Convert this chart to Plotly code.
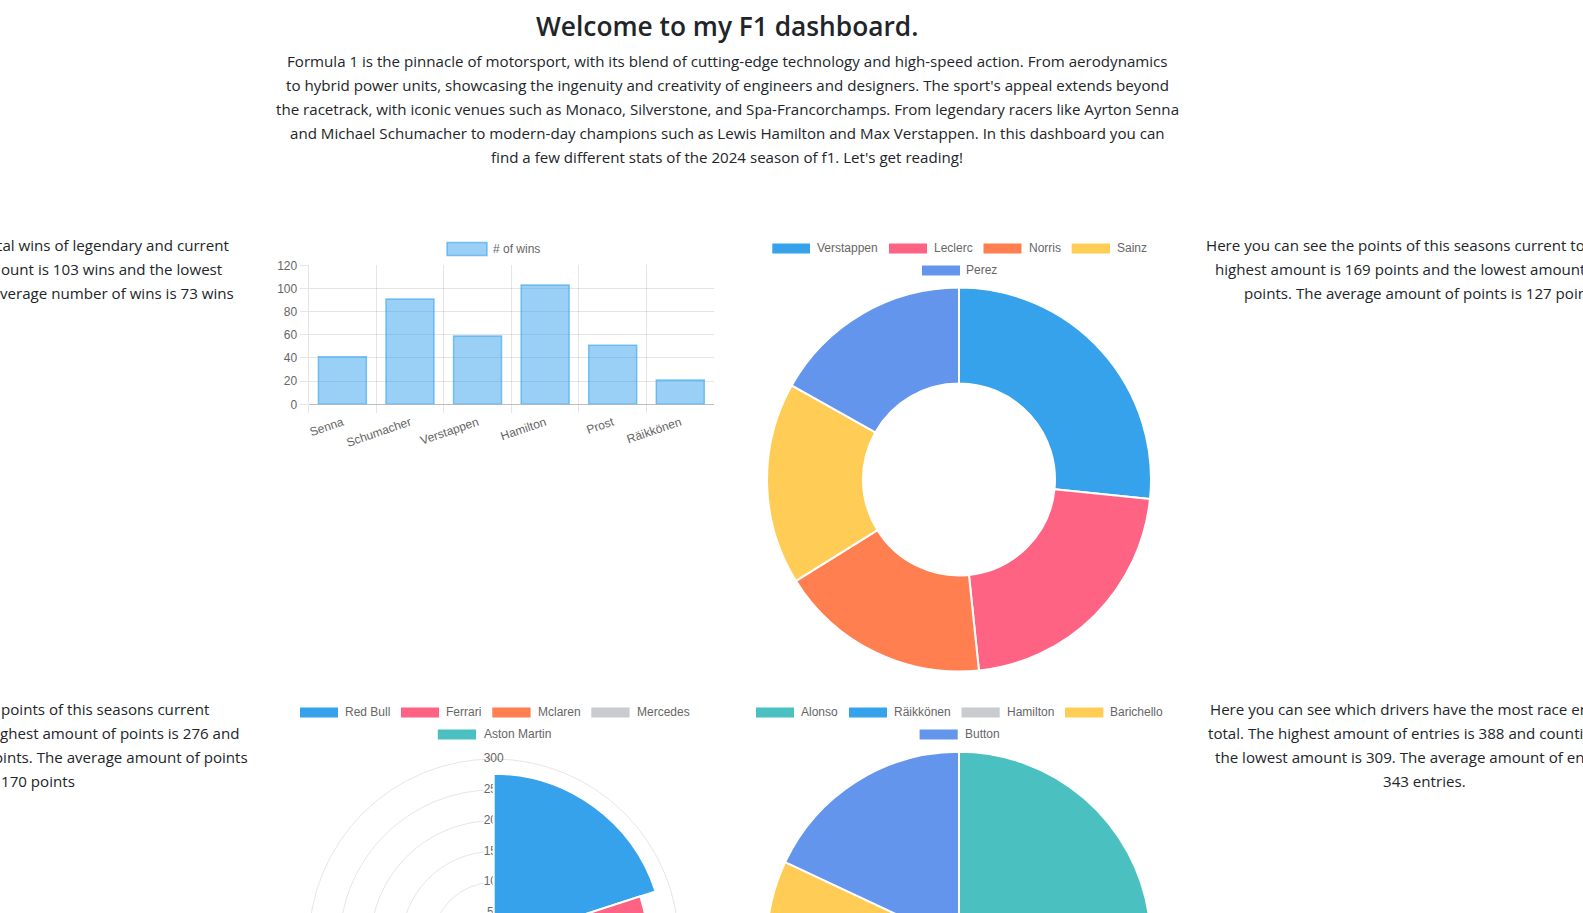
import plotly.graph_objects as go

# ---------- data ----------
win_drivers = ["Senna", "Schumacher", "Verstappen", "Hamilton", "Prost", "Räikkönen"]
win_values = [41, 91, 59, 103, 51, 21]
win_ticks = [0, 20, 40, 60, 80, 100, 120]

point_drivers = ["Verstappen", "Leclerc", "Norris", "Sainz", "Perez"]
point_values = [169, 138, 113, 108, 107]

team_names = ["Red Bull", "Ferrari", "Mclaren", "Mercedes", "Aston Martin"]
team_values = [276, 250, 184, 96, 44]
team_ticks = [50, 100, 150, 200, 250, 300]

entry_drivers = ["Alonso", "Räikkönen", "Hamilton", "Barichello", "Button"]
entry_values = [388, 353, 339, 326, 309]

title_text = "Welcome to my F1 dashboard."
intro_lines = [
    "Formula 1 is the pinnacle of motorsport, with its blend of cutting-edge technology and high-speed action. From aerodynamics",
    "to hybrid power units, showcasing the ingenuity and creativity of engineers and designers. The sport's appeal extends beyond",
    "the racetrack, with iconic venues such as Monaco, Silverstone, and Spa-Francorchamps. From legendary racers like Ayrton Senna",
    "and Michael Schumacher to modern-day champions such as Lewis Hamilton and Max Verstappen. In this dashboard you can",
    "find a few different stats of the 2024 season of f1. Let's get reading!",
]
left_top = ["tal wins of legendary and current", "ount is 103 wins and the lowest", "verage number of wins is 73 wins"]
right_top = ["Here you can see the points of this seasons current to", "highest amount is 169 points and the lowest amount", "points. The average amount of points is 127 poin"]
left_bottom = ["points of this seasons current", "ghest amount of points is 276 and", "oints. The average amount of points", "170 points"]
right_bottom = ["Here you can see which drivers have the most race en", "total. The highest amount of entries is 388 and counti", "the lowest amount is 309. The average amount of en", "343 entries."]

# ---------- styles ----------
BLUE, PINK, ORANGE, YELLOW, CORN, TEAL, GREY = (
    "#36a2eb", "#ff6384", "#ff7f50", "#ffcd56", "#6495ed", "#4bc0c0", "#c9cbcf")
point_colors = [BLUE, PINK, ORANGE, YELLOW, CORN]
team_colors = [BLUE, PINK, ORANGE, GREY, TEAL]
entry_colors = [TEAL, BLUE, GREY, YELLOW, CORN]

W, H = 1583, 1200
BODY = "Open Sans, sans-serif"
BODY_COLOR = "#212529"
BODY_SIZE = 15.12
CHART_FONT = "Liberation Sans, Arial, sans-serif"
CHART_COLOR = "#666666"
GRID = "rgba(0,0,0,0.1)"


def px(x):
    return x / W


def py(y):
    return 1 - y / H


annotations, shapes = [], []


def label(text, x, y, anchor="center", size=BODY_SIZE, color=BODY_COLOR, family=BODY, weight=None):
    font = dict(size=size, color=color, family=family)
    if weight:
        font["weight"] = weight
    annotations.append(dict(text=text, x=px(x), y=py(y), xref="paper", yref="paper",
                            xanchor=anchor, yanchor="middle", showarrow=False, font=font,
                            align=anchor if anchor != "center" else "center",
                            borderpad=0, borderwidth=0))


def legend(names, colors, swatches, text_x, rows, row_y, box=10, line=None):
    for name, color, (x0, x1), tx, row in zip(names, colors, swatches, text_x, rows):
        yc = row_y[row]
        shapes.append(dict(type="rect", xref="paper", yref="paper",
                           x0=px(x0), x1=px(x1), y0=py(yc - box / 2), y1=py(yc + box / 2),
                           fillcolor=color, line=line or dict(width=0)))
        label(name, tx, yc - 0.3, anchor="left", size=12, color=CHART_COLOR, family=CHART_FONT)


# ---------- text ----------
label(title_text, 727, 26, size=26.3, weight=600)
for line, y in zip(intro_lines, [61, 85, 109.3, 133, 157.5]):
    label(line, 727, y)
for line, xr, y in zip(left_top, [230, 223, 234], [245.3, 269, 293]):
    label(line, xr, y, anchor="right")
for line, xl, y in zip(right_top, [1205.5, 1214.5, 1244], [245.3, 269, 293]):
    label(line, xl, y, anchor="left")
for line, xr, y in zip(left_bottom, [210, 240, 248, 74.7], [709, 733.2, 757, 781]):
    label(line, xr, y, anchor="right")
for line, xl, y in zip(right_bottom, [1209.5, 1208, 1215, 1383], [709, 733.2, 757, 781]):
    label(line, xl, y, anchor="left")

# ---------- legends ----------
legend(["# of wins"], ["rgba(54,162,235,0.5)"], [(447, 487)], [493], [0], [249], box=13,
       line=dict(color="rgba(54,162,235,0.6)", width=1.5))
legend(point_drivers, point_colors,
       [(772.3, 810), (889, 927), (983.5, 1021.5), (1071.7, 1110), (922, 960)],
       [817.4, 934, 1028.7, 1117, 966.3], [0, 0, 0, 0, 1], [248.5, 270.5])
legend(team_names, team_colors,
       [(300, 338), (401, 439), (492.3, 530.6), (591.3, 629.6), (437.8, 476)],
       [345.4, 446.4, 537.8, 636.7, 483.7], [0, 0, 0, 0, 1], [712.5, 734.5])
legend(entry_drivers, entry_colors,
       [(756, 794), (849, 887), (961.5, 999.7), (1065, 1103.4), (919.6, 957.7)],
       [801.3, 894.3, 1007.2, 1110, 964.7], [0, 0, 0, 0, 1], [712.5, 734.5])

fig = go.Figure()

# ---------- bar ----------
fig.add_trace(go.Bar(x=win_drivers, y=win_values, name="# of wins",
                     marker=dict(color="rgba(54,162,235,0.5)",
                                 line=dict(color="rgba(54,162,235,0.6)", width=1.5))))
fig.update_layout(
    bargap=0.29,
    xaxis=dict(domain=[px(308.6), px(714)], anchor="y", tickson="boundaries", ticks="outside", ticklen=8,
               range=[-0.5, 5.499], tickcolor=GRID, gridcolor=GRID, showgrid=True, tickangle=-19,
               showline=False, zeroline=False, ticklabelstandoff=8,
               tickfont=dict(family=CHART_FONT, size=12, color=CHART_COLOR)),
    yaxis=dict(domain=[py(404.3), py(265.3)], anchor="x", range=[0, 120], tickvals=win_ticks,
               ticks="outside", ticklen=8, tickcolor=GRID, gridcolor=GRID, showline=True, linecolor=GRID,
               zeroline=True, zerolinecolor="rgba(0,0,0,0.25)", zerolinewidth=1,
               tickfont=dict(family=CHART_FONT, size=12, color=CHART_COLOR)),
)

# ---------- doughnut ----------
R = 192
fig.add_trace(go.Pie(labels=point_drivers, values=point_values, hole=0.5, sort=False, direction="clockwise",
                     rotation=0, textinfo="none", showlegend=False,
                     marker=dict(colors=point_colors, line=dict(color="white", width=2)),
                     domain=dict(x=[px(959 - R), px(959 + R)], y=[py(479.5 + R), py(479.5 - R)])))

# ---------- pie ----------
fig.add_trace(go.Pie(labels=entry_drivers, values=entry_values, sort=False, direction="clockwise",
                     rotation=0, textinfo="none", showlegend=False,
                     marker=dict(colors=entry_colors, line=dict(color="white", width=2)),
                     domain=dict(x=[px(959 - R), px(959 + R)], y=[py(943.7 + R), py(943.7 - R)])))

# ---------- polar area ----------
PR, PX, PY = 185, 493.7, 944
pdom = dict(x=[px(PX - PR), px(PX + PR)], y=[py(PY + PR), py(PY - PR)])
fig.add_trace(go.Scatterpolar(r=team_ticks, theta=[0] * len(team_ticks), mode="markers+text",
                              text=[str(v) for v in team_ticks], textposition="middle center",
                              textfont=dict(family=CHART_FONT, size=12, color=CHART_COLOR),
                              marker=dict(symbol="square", size=20, color="white"),
                              cliponaxis=False, showlegend=False, subplot="polar"))
fig.add_trace(go.Barpolar(r=team_values, theta=[36, 108, 180, 252, 324], width=[72] * 5,
                          marker=dict(color=team_colors, line=dict(color="white", width=2)),
                          showlegend=False, subplot="polar2"))
fig.update_layout(
    polar=dict(domain=pdom, bgcolor="rgba(0,0,0,0)",
               angularaxis=dict(direction="clockwise", rotation=90, showticklabels=False, ticks="",
                                showgrid=False, showline=True, linecolor=GRID, linewidth=1),
               radialaxis=dict(range=[0, 300], tickvals=team_ticks, showticklabels=False, ticks="",
                               showline=False, gridcolor=GRID, gridwidth=1)),
    polar2=dict(domain=pdom, bgcolor="rgba(0,0,0,0)",
                angularaxis=dict(visible=False, direction="clockwise", rotation=90),
                radialaxis=dict(range=[0, 300], visible=False)),
)

fig.update_layout(width=W, height=H, margin=dict(l=0, r=0, t=0, b=0, autoexpand=False), autosize=False,
                  paper_bgcolor="white", plot_bgcolor="white", showlegend=False,
                  annotations=annotations, shapes=shapes)

post = ("document.documentElement.style.overflow='hidden';"
        "document.body.style.overflow='hidden';document.body.style.margin='0';")
fig.write_html("out.html", post_script=post, config=dict(displayModeBar=False))
